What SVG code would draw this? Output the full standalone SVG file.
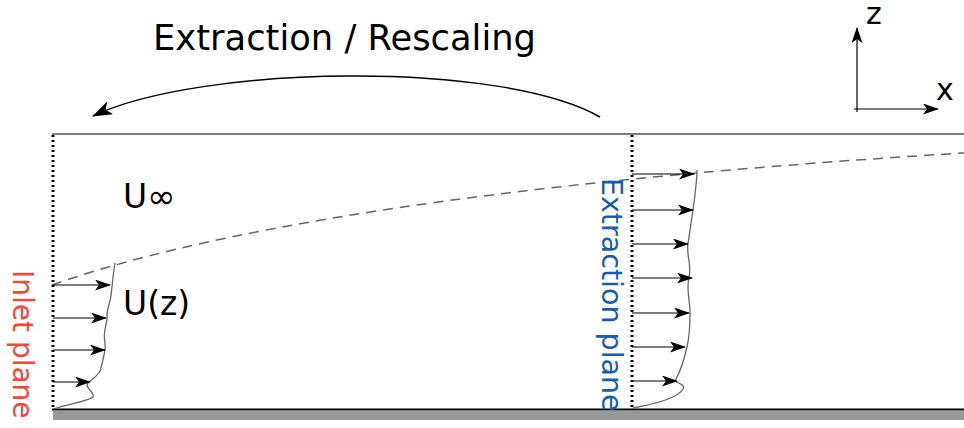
<svg xmlns="http://www.w3.org/2000/svg" width="964" height="428" viewBox="0 0 964 428">
<defs>
<marker id="ah" viewBox="0 0 16 11" refX="15" refY="5.5" markerWidth="16" markerHeight="11" markerUnits="userSpaceOnUse" orient="auto">
<path d="M0,0 L16,5.5 L0,11 L4,5.5 Z" fill="#000"/>
</marker>
<marker id="ah2" viewBox="0 0 20 14" refX="19" refY="7" markerWidth="20" markerHeight="14" markerUnits="userSpaceOnUse" orient="auto">
<path d="M0,0 L20,7 L0,14 L5,7 Z" fill="#000"/>
</marker>
</defs>
<style>
.t{font-family:"DejaVu Sans",sans-serif;fill:#000}
.arr{stroke:#000;stroke-width:1.2;fill:none;marker-end:url(#ah)}
.prof{stroke:#666;stroke-width:1.3;fill:none}
.dot{stroke:#000;stroke-width:3;stroke-dasharray:2 3;fill:none}
</style>
<rect x="0" y="0" width="964" height="428" fill="#fff"/>
<g id="domain">
<line x1="52" y1="134" x2="964" y2="134" stroke="#555" stroke-width="1.5"/>
<rect x="53" y="411" width="911" height="9" fill="#999"/>
<line x1="52" y1="409.5" x2="964" y2="409.5" stroke="#000" stroke-width="2"/>
<path d="M52,285 C250,215 600,175 964,153" stroke="#666" stroke-width="1.5" stroke-dasharray="10 7" fill="none"/>
</g>
<g id="inlet">
<line class="dot" x1="53" y1="135" x2="53" y2="408"/>
<path class="prof" d="M53,409 C70,404 88,401 93,397 C95,392 84,388 88,383 C93,378 100,375 101,368 C103,360 104,355 105,350 C106,344 103,338 105,330 C106,322 108,318 107,314 C108,306 110,302 111,296 C112,288 113,275 115,263"/>
<line class="arr" x1="53" y1="285" x2="110" y2="285"/>
<line class="arr" x1="53" y1="318" x2="106" y2="318"/>
<line class="arr" x1="53" y1="350" x2="105" y2="350"/>
<line class="arr" x1="53" y1="382" x2="90" y2="382"/>
<text class="t" transform="translate(13,270) rotate(90)" font-size="28" style="fill:#f0483a">Inlet plane</text>
</g>
<g id="extraction">
<line class="dot" x1="632" y1="135" x2="632" y2="408"/>
<path class="prof" d="M633,408 C655,404 678,398 683,389 C686,383 672,383 676,379 C680,372 684,360 687,347 C690,335 690,322 690,312 C690,300 686,290 689,277 C692,265 686,255 688,243 C690,232 691,222 693,210 C695,195 697,180 697,170"/>
<line class="arr" x1="632" y1="174" x2="694" y2="174"/>
<line class="arr" x1="632" y1="210" x2="693" y2="210"/>
<line class="arr" x1="632" y1="244" x2="688" y2="244"/>
<line class="arr" x1="632" y1="278" x2="692" y2="278"/>
<line class="arr" x1="632" y1="313" x2="689" y2="313"/>
<line class="arr" x1="632" y1="347" x2="685" y2="347"/>
<line class="arr" x1="632" y1="381" x2="677" y2="381"/>
<text class="t" transform="translate(602,178) rotate(90)" font-size="28.5" style="fill:#1a5ca8">Extraction plane</text>
</g>
<g id="labels">
<text class="t" x="123" y="208" font-size="33">U<tspan font-size="34">∞</tspan></text>
<text class="t" x="123" y="315" font-size="33">U(z)</text>
<text class="t" x="153" y="50" font-size="35.3">Extraction / Rescaling</text>
</g>
<g id="connectors">
<path d="M600,117 C500,60 200,65 93,116" stroke="#000" stroke-width="1.5" fill="none" marker-end="url(#ah2)"/>
</g>
<g id="axes">
<line class="arr" x1="857" y1="112" x2="857" y2="28"/>
<line class="arr" x1="854" y1="109" x2="938" y2="109"/>
<text class="t" x="866" y="24" font-size="30">z</text>
<text class="t" x="936" y="100" font-size="30">x</text>
</g>
</svg>
